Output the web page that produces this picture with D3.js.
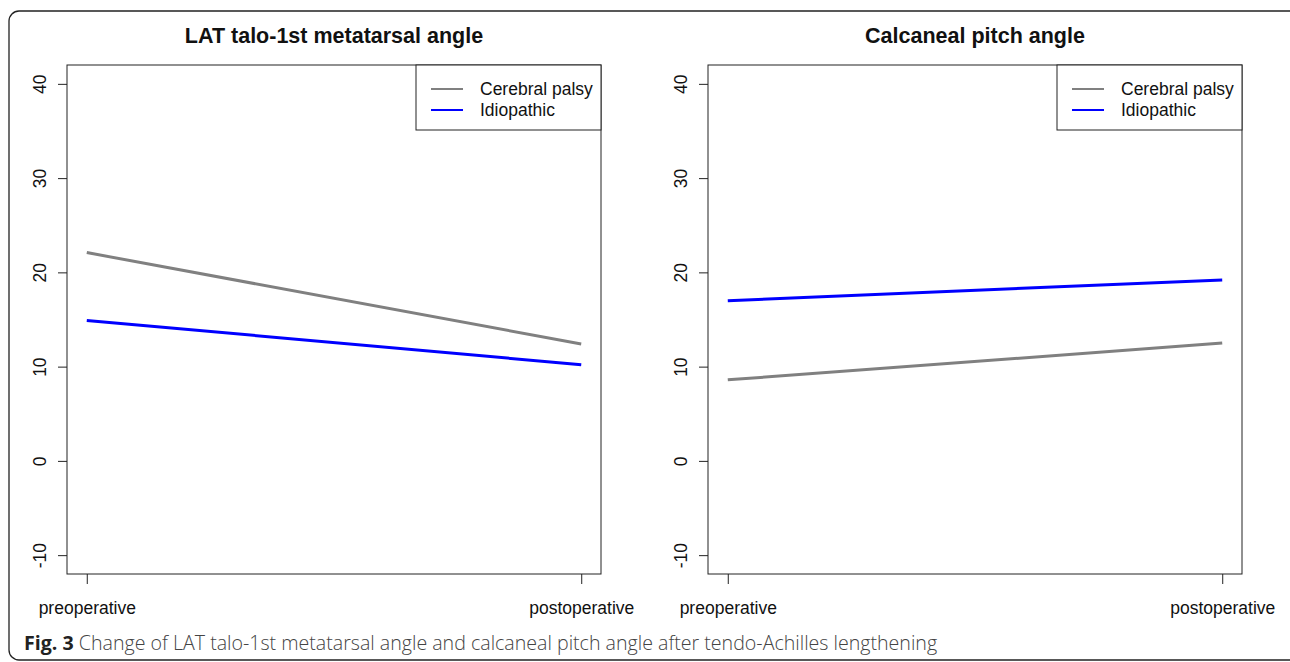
<!DOCTYPE html>
<html>
<head>
<meta charset="utf-8">
<script src="https://cdn.jsdelivr.net/npm/d3@7"></script>
<style>
  body { margin: 0; background: #fff; }
  svg { display: block; }
</style>
</head>
<body>
<div id="chart"></div>
<script>
// dados
const momentos = ["preoperative", "postoperative"];
const series = ["Cerebral palsy", "Idiopathic"];
const coresSerie = { "Cerebral palsy": "#808080", "Idiopathic": "#0000ff" };
const yTicks = [-10, 0, 10, 20, 30, 40];

const latCerebral = [22.1, 12.4];
const latIdiopathic = [14.9, 10.2];
const calcCerebral = [8.6, 12.5];
const calcIdiopathic = [17.0, 19.2];

const paineis = [
  { titulo: "LAT talo-1st metatarsal angle", left: 67, valores: { "Cerebral palsy": latCerebral, "Idiopathic": latIdiopathic } },
  { titulo: "Calcaneal pitch angle", left: 708, valores: { "Cerebral palsy": calcCerebral, "Idiopathic": calcIdiopathic } }
];

const W = 1290, H = 662;
const fonteR = "'Liberation Sans', Arial, Helvetica, sans-serif";

let svg = d3.select("#chart").append("svg")
  .attr("width", W).attr("height", H);

// moldura arredondada
svg.append("rect")
  .attr("x", 9).attr("y", 11)
  .attr("width", 1300).attr("height", 649)
  .attr("rx", 10)
  .attr("fill", "none")
  .attr("stroke", "#222")
  .attr("stroke-width", 1.3);

const topo = 65, base = 574, boxW = 534;

paineis.forEach(p => {
  let g = svg.append("g").attr("transform", `translate(${p.left}, 0)`);

  let x = d3.scaleLinear().domain([0.96, 2.04]).range([0, boxW]);
  let y = d3.scaleLinear().domain([-12, 42]).range([base, topo]);

  // linhas
  let linha = d3.line()
    .x((d, i) => x(i + 1))
    .y(d => y(d));

  series.forEach(s => {
    g.append("path")
      .datum(p.valores[s])
      .attr("d", linha)
      .attr("fill", "none")
      .attr("stroke", coresSerie[s])
      .attr("stroke-width", 3);
  });

  // caixa do gráfico
  g.append("rect")
    .attr("x", 0).attr("y", topo)
    .attr("width", boxW).attr("height", base - topo)
    .attr("fill", "none")
    .attr("stroke", "#222")
    .attr("stroke-width", 1);

  // eixo y
  let ay = g.append("g")
    .call(d3.axisLeft(y).tickValues(yTicks).tickSize(9).tickFormat(d => String(d)));
  ay.select(".domain").remove();
  ay.selectAll(".tick line").attr("stroke", "#222");
  ay.selectAll("text")
    .attr("transform", "rotate(-90)")
    .attr("x", 0).attr("y", -27)
    .attr("dy", "0.35em")
    .attr("text-anchor", "middle")
    .style("font-family", fonteR)
    .style("font-size", "17.5px")
    .attr("fill", "#111");

  // eixo x
  let ax = g.append("g")
    .attr("transform", `translate(0, ${base})`)
    .call(d3.axisBottom(x).tickValues([1, 2]).tickSize(10).tickPadding(18)
      .tickFormat(d => momentos[d - 1]));
  ax.select(".domain").remove();
  ax.selectAll(".tick line").attr("stroke", "#222");
  ax.selectAll("text")
    .style("font-family", fonteR)
    .style("font-size", "17.5px")
    .attr("fill", "#111");

  // título
  svg.append("text")
    .attr("x", p.left + boxW / 2).attr("y", 43)
    .attr("text-anchor", "middle")
    .style("font-family", fonteR)
    .style("font-size", "21.5px")
    .style("font-weight", "bold")
    .attr("fill", "#111")
    .text(p.titulo);

  // legenda
  let leg = g.append("g").attr("transform", `translate(${boxW - 185}, ${topo})`);
  leg.append("rect")
    .attr("width", 185).attr("height", 65)
    .attr("fill", "#fff")
    .attr("stroke", "#222")
    .attr("stroke-width", 1);
  series.forEach((s, i) => {
    let yy = 24 + i * 21;
    leg.append("line")
      .attr("x1", 15).attr("x2", 47)
      .attr("y1", yy).attr("y2", yy)
      .attr("stroke", coresSerie[s])
      .attr("stroke-width", 2);
    leg.append("text")
      .attr("x", 64).attr("y", yy)
      .attr("dy", "0.35em")
      .style("font-family", fonteR)
      .style("font-size", "17.5px")
      .attr("fill", "#111")
      .text(s);
  });
});

// legenda da figura
let cap = svg.append("text")
  .attr("x", 24).attr("y", 650)
  .style("font-family", "'Open Sans', 'Noto Sans', sans-serif")
  .style("font-size", "19.6px")
  .style("font-weight", "300")
  .attr("fill", "#444");
cap.append("tspan").style("font-weight", "bold").attr("fill", "#222").text("Fig. 3");
cap.append("tspan").text(" Change of LAT talo-1st metatarsal angle and calcaneal pitch angle after tendo-Achilles lengthening");
</script>
</body>
</html>
